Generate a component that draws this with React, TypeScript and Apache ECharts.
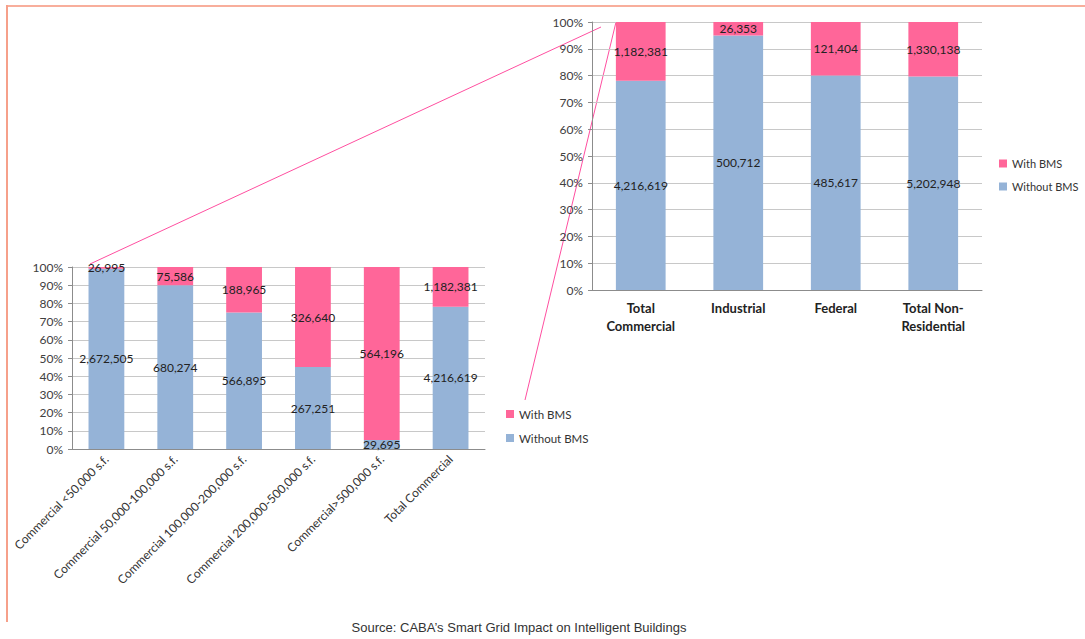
import React, { useEffect, useRef } from "react";
import * as echarts from "echarts";

const leftCategories = [
  "Commercial <50,000 s.f.",
  "Commercial 50,000-100,000 s.f.",
  "Commercial 100,000-200,000 s.f.",
  "Commercial 200,000-500,000 s.f.",
  "Commercial>500,000 s.f.",
  "Total Commercial",
];
const leftWithout = [2672505, 680274, 566895, 267251, 29695, 4216619];
const leftWith = [26995, 75586, 188965, 326640, 564196, 1182381];

const rightCategories = ["Total\nCommercial", "Industrial", "Federal", "Total Non-\nResidential"];
const rightWithout = [4216619, 500712, 485617, 5202948];
const rightWith = [1182381, 26353, 121404, 1330138];

const seriesNames = ["With BMS", "Without BMS"];

const PINK = "#FF6699";
const BLUE = "#95B3D7";
const FONT = "Lato";

const share = (a: number[], b: number[]) => a.map((v, i) => (v / (v + b[i])) * 100);
const fmt = (n: number) => n.toLocaleString("en-US");

export default function App() {
  const ref = useRef<HTMLDivElement>(null);
  useEffect(() => {
    document.body.style.margin = "0";
    const chart = echarts.init(ref.current!, undefined, { renderer: "svg" });
    const yAxisBase = {
      type: "value" as const,
      min: 0,
      max: 100,
      interval: 10,
      axisLabel: { formatter: "{value}%", fontFamily: FONT, fontSize: 12, color: "#404040", margin: 9 },
      axisLine: { show: true, lineStyle: { color: "#8c8c8c" } },
      axisTick: { show: true, length: 4, lineStyle: { color: "#8c8c8c" } },
      splitLine: { lineStyle: { color: "#c8c8c8" } },
    };
    const labelFor = (raw: number[]) => ({
      show: true,
      position: "inside" as const,
      fontFamily: FONT,
      fontSize: 12,
      color: "#222",
      formatter: (p: any) => fmt(raw[p.dataIndex]),
    });
    const legendBase = {
      data: seriesNames,
      orient: "vertical" as const,
      icon: "rect",
      itemWidth: 8,
      itemHeight: 8,
      itemGap: 12,
      textStyle: { fontFamily: FONT, fontSize: 11.5, color: "#333" },
    };
    chart.setOption({
      animation: false,
      backgroundColor: "#fff",
      grid: [
        { left: 72, right: 600, top: 267, bottom: 190 },
        { left: 592, right: 103, top: 22, bottom: 349 },
      ],
      xAxis: [
        {
          type: "category",
          gridIndex: 0,
          data: leftCategories,
          axisLine: { lineStyle: { color: "#8c8c8c" } },
          axisTick: { length: 4, lineStyle: { color: "#8c8c8c" } },
          axisLabel: { rotate: 45, fontFamily: FONT, fontSize: 12, color: "#333", margin: 8, interval: 0 },
        },
        {
          type: "category",
          gridIndex: 1,
          data: rightCategories,
          axisLine: { lineStyle: { color: "#8c8c8c" } },
          axisTick: { length: 4, lineStyle: { color: "#8c8c8c" } },
          axisLabel: {
            fontFamily: FONT,
            fontSize: 13,
            fontWeight: "bold",
            color: "#222",
            margin: 9,
            lineHeight: 18,
            interval: 0,
          },
        },
      ],
      yAxis: [
        { ...yAxisBase, gridIndex: 0 },
        { ...yAxisBase, gridIndex: 1 },
      ],
      legend: [
        { ...legendBase, left: 501, top: 403 },
        { ...legendBase, left: 994, top: 153, textStyle: { fontFamily: FONT, fontSize: 11, color: "#333" } },
      ],
      series: [
        {
          name: "Without BMS",
          type: "bar",
          stack: "L",
          xAxisIndex: 0,
          yAxisIndex: 0,
          barWidth: "52%",
          itemStyle: { color: BLUE },
          label: labelFor(leftWithout),
          data: share(leftWithout, leftWith),
        },
        {
          name: "With BMS",
          type: "bar",
          stack: "L",
          xAxisIndex: 0,
          yAxisIndex: 0,
          barWidth: "52%",
          itemStyle: { color: PINK },
          label: labelFor(leftWith),
          data: share(leftWith, leftWithout),
        },
        {
          name: "Without BMS",
          type: "bar",
          stack: "R",
          xAxisIndex: 1,
          yAxisIndex: 1,
          barWidth: "51%",
          itemStyle: { color: BLUE },
          label: labelFor(rightWithout),
          data: share(rightWithout, rightWith),
        },
        {
          name: "With BMS",
          type: "bar",
          stack: "R",
          xAxisIndex: 1,
          yAxisIndex: 1,
          barWidth: "51%",
          itemStyle: { color: PINK },
          label: labelFor(rightWith),
          data: share(rightWith, rightWithout),
        },
      ],
      graphic: [
        { type: "line", shape: { x1: 6, y1: 6, x2: 1085, y2: 6 }, style: { stroke: "#F8AE9C", lineWidth: 2 } },
        { type: "line", shape: { x1: 7, y1: 5, x2: 7, y2: 622 }, style: { stroke: "#F6A08A", lineWidth: 2 } },
        { type: "line", shape: { x1: 90, y1: 264, x2: 601, y2: 27 }, style: { stroke: "#FF4FA0", lineWidth: 1 } },
        { type: "line", shape: { x1: 525, y1: 400, x2: 616, y2: 22 }, style: { stroke: "#FF4FA0", lineWidth: 1 } },
        {
          type: "text",
          x: 519,
          y: 627,
          style: {
            text: "Source: CABA\u2019s Smart Grid Impact on Intelligent Buildings",
            fontFamily: "Liberation Sans",
            fontSize: 13,
            fill: "#333",
            align: "center",
            verticalAlign: "middle",
          },
        },
      ],
    });
    return () => chart.dispose();
  }, []);
  return <div ref={ref} style={{ width: 1085, height: 639 }} />;
}
